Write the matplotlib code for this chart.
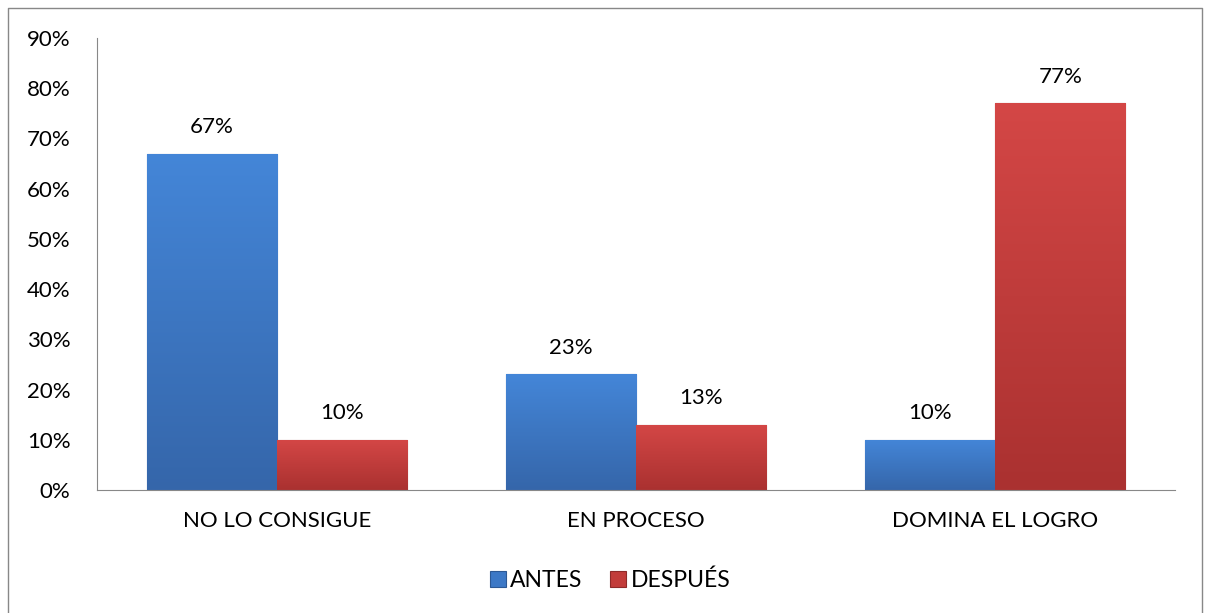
import matplotlib.pyplot as plt
import numpy as np
from matplotlib.ticker import FuncFormatter
from matplotlib.colors import LinearSegmentedColormap

categorias = ['NO LO CONSIGUE', 'EN PROCESO', 'DOMINA EL LOGRO']
antes = [67, 23, 10]
despues = [10, 13, 77]
series = ['ANTES', 'DESPUÉS']

plt.rcParams['font.family'] = ['Lato', 'DejaVu Sans']

fig = plt.figure(figsize=(12.05, 6.13), dpi=100)
ax = fig.add_axes([97 / 1205, 1 - 490 / 613, 1078 / 1205, 452 / 613])

x = np.arange(len(categorias))
w = 0.362
b1 = ax.bar(x - w / 2, antes, w, color='#3C78C6', edgecolor='#2C5894', linewidth=0.8, label=series[0])
b2 = ax.bar(x + w / 2, despues, w, color='#C23C3A', edgecolor='#8E2A29', linewidth=0.8, label=series[1])

# degradado vertical en cada barra
grad = np.linspace(1, 0, 256).reshape(-1, 1)
cm_azul = LinearSegmentedColormap.from_list('az', ['#3566AA', '#4486D8'])
cm_rojo = LinearSegmentedColormap.from_list('ro', ['#AA3130', '#D44746'])
for bars, cm in ((b1, cm_azul), (b2, cm_rojo)):
    for r in bars:
        x0, y0, bw, bh = r.get_x(), r.get_y(), r.get_width(), r.get_height()
        im = ax.imshow(grad, extent=(x0, x0 + bw, y0, y0 + bh), aspect='auto',
                       cmap=cm, zorder=r.get_zorder(), interpolation='bicubic')
        im.set_clip_path(r)

for bars, vals in ((b1, antes), (b2, despues)):
    for r, v in zip(bars, vals):
        ax.annotate('%d%%' % v, (r.get_x() + r.get_width() / 2, v), xytext=(0, 12),
                    textcoords='offset points', ha='center', va='bottom', fontsize=16)

ax.set_xlim(-0.5, 2.5)
ax.set_ylim(0, 90)
ax.set_yticks(range(0, 91, 10))
ax.yaxis.set_major_formatter(FuncFormatter(lambda v, p: '%d%%' % v))
ax.set_xticks(x)
ax.set_xticklabels(categorias)
ax.tick_params(axis='y', labelsize=16, length=0, pad=19)
ax.tick_params(axis='x', labelsize=16, length=0, pad=15)
for s in ('top', 'right'):
    ax.spines[s].set_visible(False)
ax.spines['left'].set_color('#888888')
ax.spines['bottom'].set_color('#888888')

fig.legend(handles=[b1, b2], labels=series, loc='center', bbox_to_anchor=(610 / 1205, 1 - 580 / 613),
           ncol=2, frameon=False, fontsize=16.5, handlelength=0.7, handleheight=0.7,
           handletextpad=0.2, columnspacing=1.2)

# marco exterior
fig.add_artist(plt.Line2D([8 / 1205, 8 / 1205, 1202 / 1205, 1202 / 1205],
                          [0, 1 - 8 / 613, 1 - 8 / 613, 0], color='#888888', linewidth=1))

plt.savefig('out.png', dpi=100)
